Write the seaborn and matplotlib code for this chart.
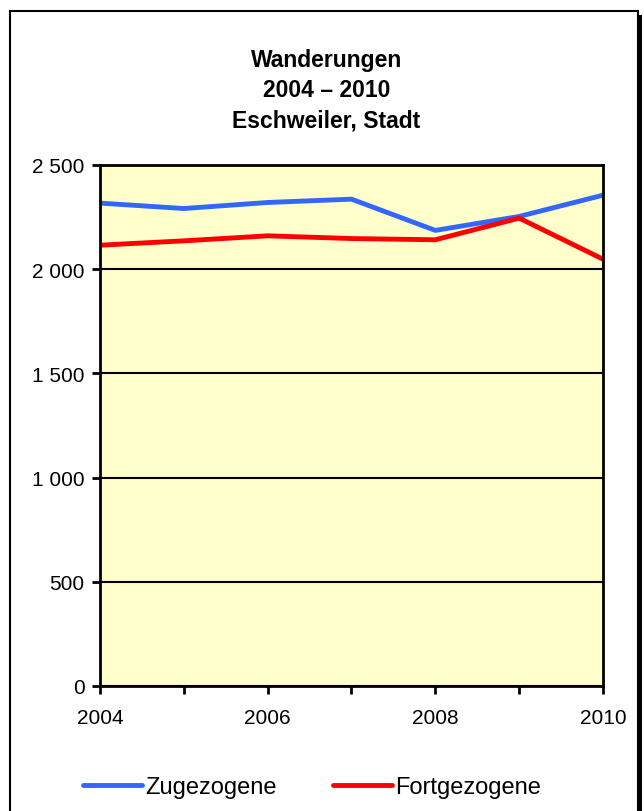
import pandas as pd
import matplotlib
matplotlib.use("Agg")
import matplotlib.pyplot as plt
import seaborn as sns
from matplotlib.patches import Rectangle
from matplotlib.ticker import FuncFormatter, MultipleLocator

# Data
years = [2004, 2005, 2006, 2007, 2008, 2009, 2010]
zugezogene = [2317, 2291, 2320, 2336, 2186, 2253, 2355]
fortgezogene = [2115, 2136, 2160, 2147, 2141, 2245, 2048]
series_names = ["Zugezogene", "Fortgezogene"]
colors = ["#3366FF", "#FF0000"]

df = pd.DataFrame({
    "Jahr": years * 2,
    "Anzahl": zugezogene + fortgezogene,
    "Serie": [series_names[0]] * len(years) + [series_names[1]] * len(years),
})

sns.set_style("white")
plt.rcParams["font.family"] = ["Liberation Sans", "DejaVu Sans"]
plt.rcParams["text.color"] = "black"
plt.rcParams["xtick.color"] = "black"
plt.rcParams["ytick.color"] = "black"

fig = plt.figure(figsize=(6.44, 8.12), dpi=100)
ax = fig.add_axes([0.1553, 0.154, 0.781, 0.6416])
ax.set_facecolor("#FFFFCC")

sns.lineplot(data=df, x="Jahr", y="Anzahl", hue="Serie", palette=colors,
             linewidth=3.5, ax=ax, legend=False)

# Axes styling
ax.set_xlim(2004, 2010)
ax.set_ylim(0, 2500)
ax.yaxis.set_major_locator(MultipleLocator(500))
ax.xaxis.set_major_locator(MultipleLocator(2))
ax.xaxis.set_minor_locator(MultipleLocator(1))
ax.yaxis.set_major_formatter(FuncFormatter(lambda v, p: f"{int(v):,}".replace(",", " ")))
ax.grid(axis="y", color="black", linewidth=1.5)
ax.set_axisbelow(False)
for s in ax.spines.values():
    s.set_color("black")
    s.set_linewidth(2)
ax.tick_params(axis="both", which="both", direction="out", color="black",
               width=2, labelsize=15, bottom=True, left=True)
ax.tick_params(axis="both", which="major", length=6)
ax.tick_params(axis="y", which="major", pad=5)
ax.tick_params(axis="x", which="major", pad=10)
ax.tick_params(axis="x", which="minor", length=6)
ax.set_xlabel("")
ax.set_ylabel("")

# Title
fig.text(0.507, 0.926, "Wanderungen", ha="center", va="center",
         fontsize=16.5, fontweight="bold")
fig.text(0.507, 0.889, "2004 – 2010", ha="center", va="center",
         fontsize=16.5, fontweight="bold")
fig.text(0.507, 0.851, "Eschweiler, Stadt", ha="center", va="center",
         fontsize=16.5, fontweight="bold")

# Legend
handles = [plt.Line2D([], [], color=c, linewidth=3.5) for c in colors]
fig.legend(handles, series_names, loc="center left", bbox_to_anchor=(83 / 644, 0.029),
           ncol=2, frameon=False, fontsize=17, handlelength=2.5,
           handletextpad=0.12, columnspacing=2.4, borderaxespad=0, borderpad=0)

# Figure frame with shadow
fig.patches.append(Rectangle((14 / 644, -0.1), 628 / 644, 1.1 - 16 / 812,
                             transform=fig.transFigure, facecolor="black",
                             edgecolor="none", zorder=-2))
fig.patches.append(Rectangle((10 / 644, -0.1), 628 / 644, 1.1 - 12 / 812,
                             transform=fig.transFigure, facecolor="white",
                             edgecolor="black", linewidth=1.5, zorder=-1))

fig.savefig("out.png", dpi=100)
